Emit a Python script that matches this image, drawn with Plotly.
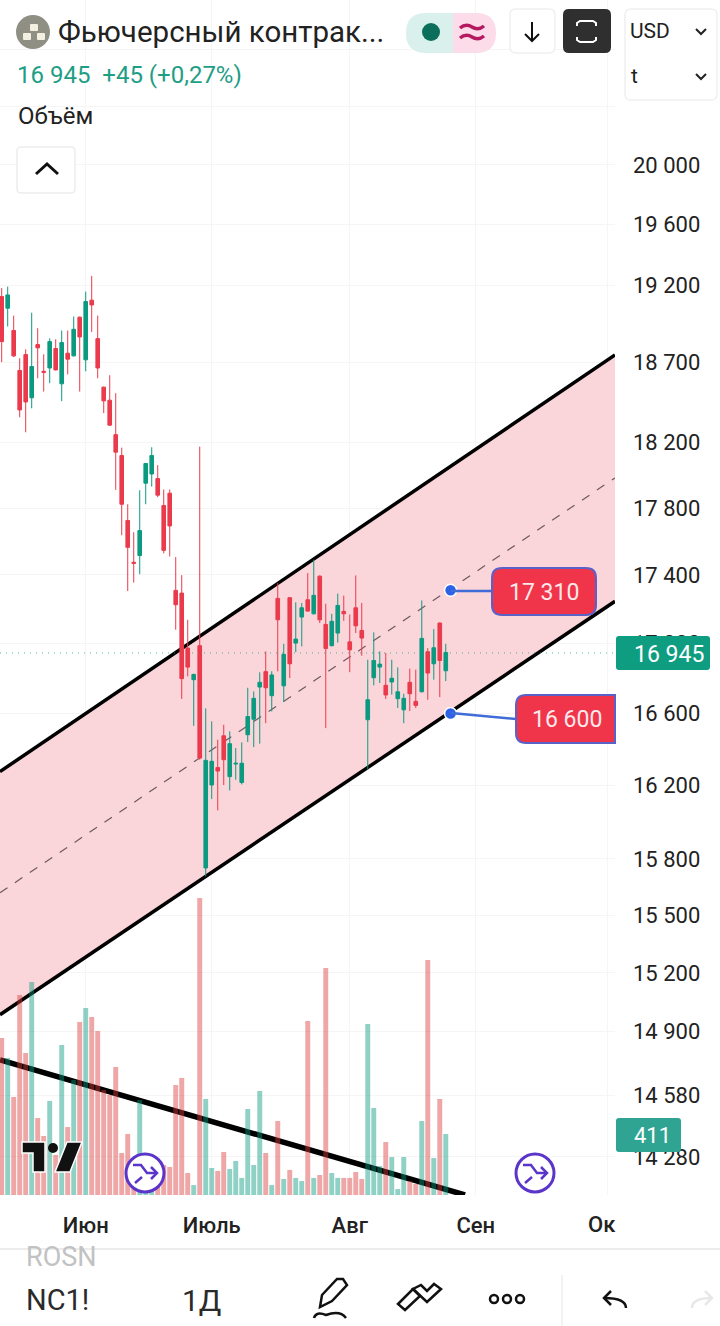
import math
import plotly.graph_objects as go

bar_index = list(range(75))
opens = [19125,19050,18906,18651,18752,18479,18816,18646,18667,18791,18567,18761,18744,18992,18719,19102,18854,18546,18464,18249,18120,17725,17475,17515,17951,18007,17979,17815,17890,
 17309,17293,16973,16792,16987,15752,16202,16298,16475,16248,16318,16216,16481,16568,16750,16838,16701,17262,16757,17266,17002,17153,17254,17172,17393,17110,16987,17060,17186,17009,17207,17075,16565,16803,16864,16760,16779,16684,16621,16777,16669,16723,16952,16883,17118,16843]
highs = [19180,19190,19002,18729,18786,19021,18921,18754,18856,18850,18906,18906,18996,18996,19158,19260,19002,18550,18621,18508,18169,17823,17654,17908,18073,18171,18061,17912,17912,
 17506,17399,17137,16826,18175,16629,16556,16453,16537,16500,16407,16438,16746,16725,16834,16954,16840,17352,16998,17270,17239,17235,17411,17490,17397,17231,17172,17290,17278,17168,17397,17235,16906,17064,16954,16945,16906,16862,16712,16855,16849,17250,16973,17083,17122,16998]
lows = [18704,18932,18736,18357,18264,18413,18602,18518,18571,18651,18458,18627,18740,18518,18646,18897,18602,18383,18304,17910,17636,17305,17355,17404,17823,17930,17866,17528,17510,
 17079,16682,16811,16531,16342,15707,16125,16063,16202,16172,16231,16205,16440,16412,16431,16546,16612,16840,16665,16801,16950,16983,17184,17168,17118,16518,16983,17005,17131,16835,17060,16929,16287,16760,16773,16682,16707,16631,16546,16614,16631,16720,16678,16792,16693,16784]
closes = [18835,19136,18744,18403,18453,18676,18795,18640,18835,18655,18829,18723,18914,18865,19093,19071,18667,18460,18308,18141,17823,17564,17469,17664,18071,18120,17878,17546,17692,
 17225,16798,16864,16822,16351,16338,16333,16279,16342,16431,16322,16322,16583,16686,16777,16746,16819,17137,16937,16883,17025,17207,17188,17280,17137,16971,17128,17221,17172,16963,17102,17031,16678,16902,16881,16705,16800,16723,16686,16712,16646,17029,16830,16975,16902,16948]
volumes = [1058,923,661,1348,957,1436,519,398,634,270,1011,458,775,1166,1260,1200,1105,708,674,863,283,411,236,640,202,202,148,202,189,741,789,148,67,2002,647,182,162,290,175,229,115,580,202,701,283,67,499,108,169,115,94,1173,115,135,1530,148,115,115,115,155,108,1153,586,195,357,256,40,256,94,74,499,1584,249,647,411]

price_ticks = [20800,20400,20000,19600,19200,18700,18200,17800,17400,17000,16600,16200,15800,15500,15200,14900,14580,14280]
price_labels = ["","","20 000","19 600","19 200","18 700","18 200","17 800","17 400","17 000","16 600","16 200","15 800","15 500","15 200","14 900","14 580","14 280"]
month_ticks = [14,35,58,79,101]
month_labels = ["Июн","Июль","Авг","Сен",""]

x_range = [-0.283, 102.2]
price_range = [21152, 14096]
volume_top = 8054
channel_upper = [16276, 18750]
channel_lower = [14986, 17245]
channel_mid = [15620, 17983]
support_line = [14758, 14096]
support_end_index = 77.2
last_price = 16945
last_volume = "411"
marker_prices = [17310, 16600]
marker_index = [74.8, 74.8]

RED = "#EA3A4C"
GREEN = "#0B9A80"
FONT = "Roboto"
W, H = 720, 1326

def X(p): return p / W
def Y(p): return 1 - p / H
def P(x, y): return f"{X(x):.5f},{Y(y):.5f}"

shapes = []
annots = []

def path(d, fill=None, color=None, width=0, layer="above"):
    s = dict(type="path", xref="paper", yref="paper", path=d, layer=layer,
             line=dict(color=color or "rgba(0,0,0,0)", width=width))
    if fill:
        s["fillcolor"] = fill
    shapes.append(s)

def poly(points, close=False, **kw):
    d = "M" + " L".join(P(*p) for p in points) + (" Z" if close else "")
    path(d, **kw)

def rrect(x0, y0, x1, y1, r, **kw):
    d = (f"M{P(x0+r,y0)} L{P(x1-r,y0)} Q{P(x1,y0)} {P(x1,y0+r)} L{P(x1,y1-r)} Q{P(x1,y1)} {P(x1-r,y1)} "
         f"L{P(x0+r,y1)} Q{P(x0,y1)} {P(x0,y1-r)} L{P(x0,y0+r)} Q{P(x0,y0)} {P(x0+r,y0)} Z")
    path(d, **kw)

def circle(cx, cy, r, fill=None, color=None, width=0):
    s = dict(type="circle", xref="paper", yref="paper", x0=X(cx-r), x1=X(cx+r), y0=Y(cy-r), y1=Y(cy+r),
             layer="above", line=dict(color=color or "rgba(0,0,0,0)", width=width))
    if fill:
        s["fillcolor"] = fill
    shapes.append(s)

def text(x, y, t, size=22, color="#222222", anchor="left", weight=None):
    f = dict(family=FONT, size=size, color=color)
    if weight:
        f["weight"] = weight
    annots.append(dict(xref="paper", yref="paper", x=X(x), y=Y(y), text=t, showarrow=False,
                       xanchor=anchor, yanchor="middle", font=f, borderpad=0))

shapes.append(dict(type="path", xref="x", yref="y", layer="between", line=dict(width=0), fillcolor="#FAD5D9",
    path=f"M{x_range[0]},{channel_upper[0]} L{x_range[1]},{channel_upper[1]} L{x_range[1]},{channel_lower[1]} L{x_range[0]},{channel_lower[0]} Z"))
for ends, col, wid, dash in [(channel_upper, "#000000", 3.5, "solid"), (channel_lower, "#000000", 3.5, "solid"),
                             (channel_mid, "#6E5A60", 1.2, "dash")]:
    shapes.append(dict(type="line", xref="x", yref="y", layer="between", x0=x_range[0], x1=x_range[1], y0=ends[0], y1=ends[1],
                       line=dict(color=col, width=wid, dash=dash)))
shapes.append(dict(type="line", xref="x", yref="y", layer="between", x0=x_range[0], x1=support_end_index,
                   y0=support_line[0], y1=support_line[1], line=dict(color="#000000", width=5.5)))
shapes.append(dict(type="line", xref="x", yref="y", layer="between", x0=x_range[0], x1=x_range[1],
                   y0=last_price, y1=last_price, line=dict(color="rgba(11,154,128,0.7)", width=1, dash="1px,5px")))

fig = go.Figure()
fig.add_trace(go.Candlestick(x=bar_index, open=opens, high=highs, low=lows, close=closes,
    increasing=dict(line=dict(color=GREEN, width=1), fillcolor=GREEN),
    decreasing=dict(line=dict(color=RED, width=1), fillcolor=RED),
    whiskerwidth=0, hoverinfo="skip", showlegend=False, xaxis="x", yaxis="y"))
fig.add_trace(go.Bar(x=bar_index, y=volumes, xaxis="x", yaxis="y2", hoverinfo="skip", showlegend=False, width=0.82,
    marker=dict(line=dict(width=0),
                color=["rgba(8,153,129,0.45)" if c >= o else "rgba(220,58,58,0.45)" for o, c in zip(opens, closes)])))
fig.add_trace(go.Scatter(x=marker_index, y=marker_prices, mode="markers", xaxis="x", yaxis="y", hoverinfo="skip",
    showlegend=False, marker=dict(size=12, color="#2D62E6", line=dict(color="#FFFFFF", width=1.5))))

# callouts
poly([(451, 591), (492, 591)], color="#3F6CD6", width=2.5)
poly([(451, 713), (516, 719)], color="#3F6CD6", width=2.5)
rrect(492, 568, 596, 615, 10, fill="#F0344A", color="#5A62C8", width=2)
path(f"M{P(526,695)} L{P(615,695)} L{P(615,743)} L{P(526,743)} Q{P(516,743)} {P(516,733)} L{P(516,705)} Q{P(516,695)} {P(526,695)} Z",
     fill="#F0344A", color="#5A62C8", width=2)
text(544, 592, "17 310", 23, "#FFE9EB", "center")
text(567, 719, "16 600", 23, "#FFE9EB", "center")

# value boxes on the scale
rrect(616, 636, 710, 670, 3, fill="#0F9D82")
text(633, 654, f"{last_price:,}".replace(",", " "), 23, "#FFFFFF")
rrect(616, 1118, 681, 1152, 3, fill="#2FA492")
text(633, 1135, last_volume, 22, "#FFFFFF")

# TV logo
poly([(22,1142),(45,1142),(45,1172),(33,1172),(33,1153),(22,1153)], close=True, fill="#111111", color="#FFFFFF", width=1.5)
circle(53, 1148, 5, fill="#111111")
poly([(67,1142),(82,1142),(70,1172),(55,1172)], close=True, fill="#111111", color="#FFFFFF", width=1.5)

# purple icons
for cx in (145, 535):
    circle(cx, 1173, 19, fill="#FFFFFF", color="#5B35C9", width=3)
    poly([(cx-12,1165),(cx-4,1165),(cx+2,1173),(cx+12,1173)], color="#5B35C9", width=2.5)
    poly([(cx+6,1167),(cx+12,1173),(cx+6,1179)], color="#5B35C9", width=2.5)
    poly([(cx-10,1183),(cx-3,1177)], color="#5B35C9", width=2.5)

# header
circle(33, 32, 17, fill="#8F8F84")
rrect(30,24,38,31,1,fill="#F3F0E2")
rrect(23,33,31,40,1,fill="#F3F0E2")
rrect(37,33,45,40,1,fill="#F3F0E2")
text(57, 32, "Фьючерсный контрак...", 29.5, "#222222")
text(16, 75, "16 945  +45 (+0,27%)", 24, "#1E9E85")
text(17, 116, "Объём", 24, "#222222")
rrect(17, 147, 75, 193, 4, fill="#FFFFFF", color="#EDEDED", width=1.5)
poly([(36,174),(47,164),(58,174)], color="#111111", width=3)

d = f"M{P(426,13)} L{P(453,13)} L{P(453,53)} L{P(426,53)} Q{P(406,53)} {P(406,33)} Q{P(406,13)} {P(426,13)} Z"
path(d, fill="#DAF0EC")
d = f"M{P(453,13)} L{P(476,13)} Q{P(496,13)} {P(496,33)} Q{P(496,53)} {P(476,53)} L{P(453,53)} Z"
path(d, fill="#FCDCE8")
circle(431, 32, 9, fill="#0B6F5C")
for wy in (27, 37):
    path(f"M{P(460,wy+1)} Q{P(466,wy-4)} {P(472,wy)} Q{P(478,wy+4)} {P(484,wy-1)}", color="#B5195F", width=3.5)

rrect(510, 9, 555, 53, 6, fill="#FFFFFF", color="#F0F0F0", width=1.5)
poly([(532,22),(532,41)], color="#111111", width=2)
poly([(525,34),(532,41),(539,34)], color="#111111", width=2)
rrect(563, 9, 611, 53, 6, fill="#2F2F2F")
for a in [[(577,26),(577,23),(580,21),(593,21),(596,23),(596,26)], [(577,37),(577,40),(580,42),(593,42),(596,40),(596,37)]]:
    poly(a, color="#FFFFFF", width=2)
rrect(625, 9, 717, 100, 6, fill="#FFFFFF", color="#F0F0F0", width=1.5)
text(629, 31, "USD", 21, "#222222")
text(630, 76, "t", 21, "#222222")
poly([(696,29),(701,34),(706,29)], color="#222222", width=2)
poly([(696,74),(701,79),(706,74)], color="#222222", width=2)

# bottom
poly([(0,1249),(720,1249)], color="#E6E6E6", width=1.5)
text(587, 1224, "Ок", 22, "#222222", weight=500)
text(25, 1257, "ROSN", 27, "#C2C2C2")
text(25, 1300, "NC1!", 29, "#2A2A2A")
text(181, 1300, "1Д", 30, "#2A2A2A")
poly([(320,1307),(322,1295),(337,1279),(343,1279),(347,1285),(332,1301)], close=True, color="#111111", width=2.5)
path(f"M{P(314,1318)} Q{P(316,1311)} {P(326,1315)} Q{P(340,1310)} {P(346,1318)}", color="#111111", width=2.5)
poly([(398,1304),(413,1289),(420,1296),(405,1310)], close=True, color="#111111", width=2.5)
poly([(413,1289),(427,1302),(441,1289),(434,1284),(427,1291),(421,1285)], close=True, color="#111111", width=2.5)
for cx in (494, 507, 520):
    circle(cx, 1299, 4, color="#111111", width=2.5)
poly([(562,1275),(562,1326)], color="#EEEEEE", width=1.5)
path(f"M{P(626,1308)} Q{P(626,1298)} {P(604,1298)}", color="#111111", width=2.5)
poly([(611,1291),(604,1298),(611,1305)], color="#111111", width=2.5)
path(f"M{P(692,1308)} Q{P(692,1298)} {P(712,1298)}", color="#E8E8E8", width=2.5)
poly([(705,1291),(712,1298),(705,1305)], color="#E8E8E8", width=2.5)

fig.update_layout(
    width=W, height=H, autosize=False, margin=dict(l=0, r=0, t=0, b=0),
    paper_bgcolor="#FFFFFF", plot_bgcolor="#FFFFFF", boxgap=0.14, bargap=0.2,
    font=dict(family=FONT, color="#222222"), showlegend=False, shapes=shapes, annotations=annots,
    xaxis=dict(domain=[0, 615/W], range=x_range, tickmode="array", tickvals=month_ticks, ticktext=month_labels,
               rangeslider=dict(visible=False), showgrid=True, gridcolor="#F5F5F5", gridwidth=1, zeroline=False,
               showline=False, ticks="", ticklabelstandoff=15, tickfont=dict(family=FONT, size=22, color="#222222", weight=500),
               anchor="y", fixedrange=True),
    yaxis=dict(domain=[1-1195/H, 1], type="log", side="right", anchor="x",
               range=[math.log10(price_range[1]), math.log10(price_range[0])],
               tickmode="array", tickvals=price_ticks, ticktext=price_labels, showgrid=True, gridcolor="#F5F5F5",
               zeroline=False, showline=False, ticks="", ticklabelstandoff=17,
               tickfont=dict(family=FONT, size=22, color="#222222"), fixedrange=True),
    yaxis2=dict(domain=[1-1195/H, 1], overlaying="y", range=[0, volume_top], visible=False, fixedrange=True),
)

fig.write_html("out.html", config=dict(displayModeBar=False),
               post_script="document.body.style.margin='0';document.documentElement.style.overflow='hidden';")
